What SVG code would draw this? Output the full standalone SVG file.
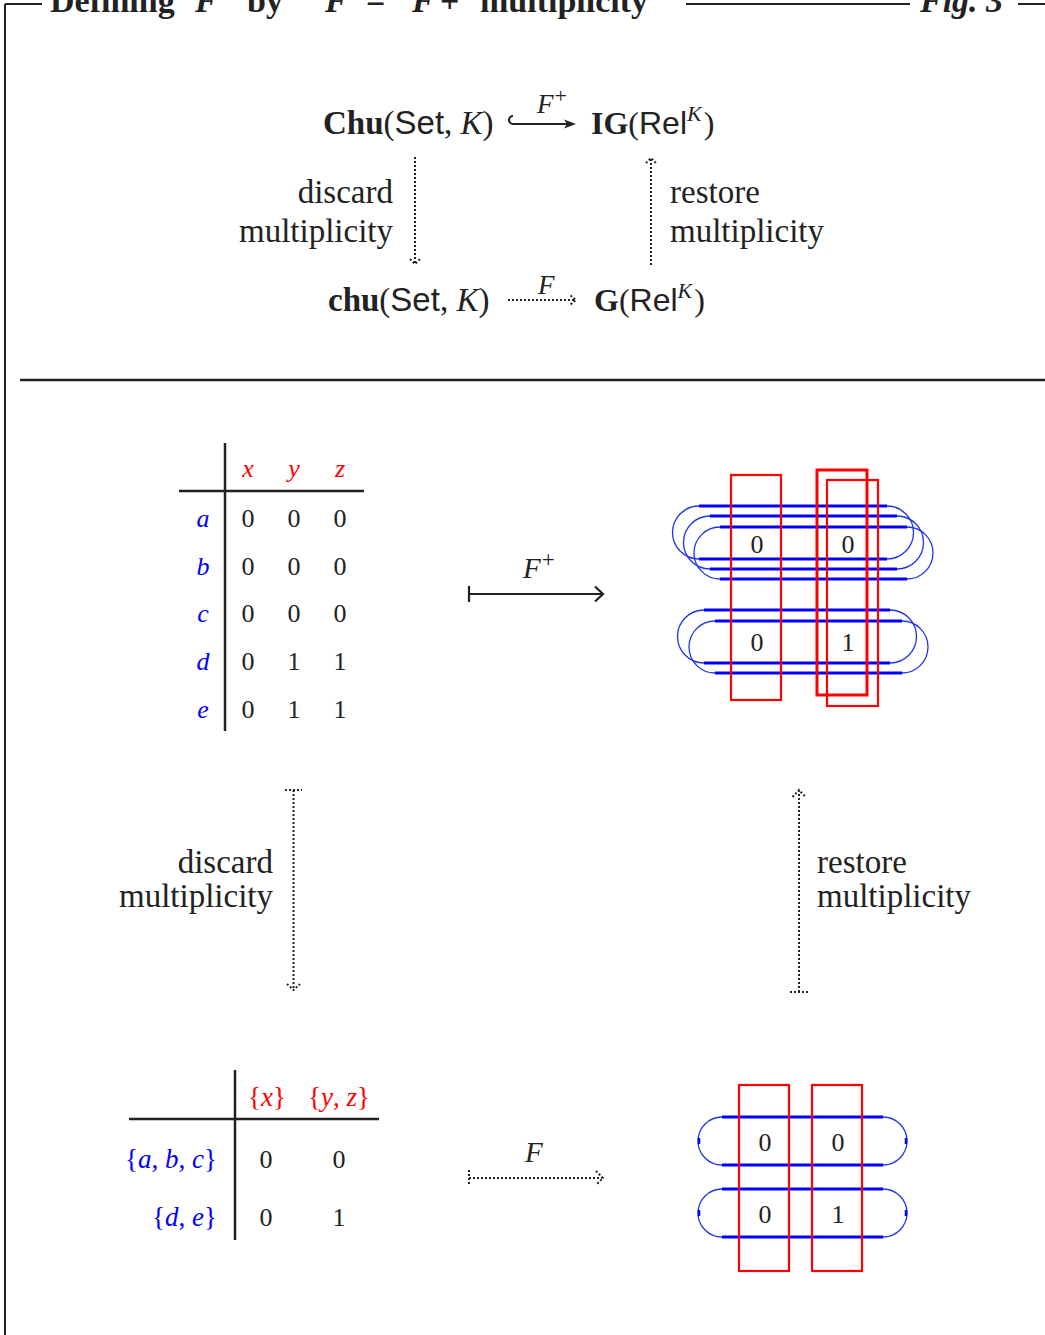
<svg xmlns="http://www.w3.org/2000/svg" width="1045" height="1335" viewBox="0 0 1045 1335">
<style>
text{font-family:"Liberation Serif","DejaVu Serif",serif;fill:#222}
.sans{font-family:"Liberation Sans","DejaVu Sans",sans-serif}
.it{font-style:italic}
.b{font-weight:bold}
.big{font-size:32px}
.lab{font-size:33px}
.num{font-size:26px}
.red{fill:#ff0000}
.blue{fill:#0000ff}
.frame{stroke:#222;stroke-width:2;fill:none}
.rule{stroke:#222;stroke-width:2.5;fill:none}
.dot{stroke:#222;stroke-width:2;fill:none;stroke-dasharray:2 2}
.solid{stroke:#222;stroke-width:2.2;fill:none}
.bl{stroke:#0000ff;stroke-width:3;fill:none}
.ba{stroke:#2233ee;stroke-width:1.3;fill:none}
.rr{stroke:#ff0000;stroke-width:2.2;fill:none}
</style>

<g id="frame">
<line class="frame" x1="5" y1="4" x2="5" y2="1335"/>
<line class="frame" x1="5" y1="4" x2="42" y2="4"/>
<line class="frame" x1="686" y1="4" x2="910" y2="4"/>
<line class="frame" x1="1018" y1="4" x2="1045" y2="4"/>
<line class="rule" x1="20" y1="380" x2="1045" y2="380"/>
</g>

<g id="title">
<text y="12" style="font-size:34px" class="b"><tspan x="50">Defining</tspan><tspan x="195" class="it">F</tspan><tspan dy="-12" style="font-size:24px">+</tspan><tspan x="247" dy="12">by</tspan><tspan x="325" class="it">F</tspan><tspan dy="-12" style="font-size:24px">+</tspan><tspan x="366" dy="12">=</tspan><tspan x="412" class="it">F</tspan><tspan x="440">+</tspan><tspan x="480">multiplicity</tspan></text>
<text x="920" y="12" style="font-size:34px" class="b it">Fig. 3</text>
</g>

<g id="node-Chu">
<text x="323" y="134" class="big" style="font-size:33px"><tspan class="b">Chu</tspan>(<tspan class="sans">Set</tspan>, <tspan class="it">K</tspan>)</text>
</g>
<g id="node-IG">
<text x="591" y="134" class="big"><tspan class="b">IG</tspan>(<tspan class="sans">Rel</tspan><tspan class="it" dy="-13" style="font-size:22px">K</tspan><tspan dy="13" dx="2">)</tspan></text>
</g>
<g id="node-chu">
<text x="328" y="311" class="big" style="font-size:33px"><tspan class="b">chu</tspan>(<tspan class="sans">Set</tspan>, <tspan class="it">K</tspan>)</text>
</g>
<g id="node-G">
<text x="594" y="311" class="big"><tspan class="b">G</tspan>(<tspan class="sans">Rel</tspan><tspan class="it" dy="-13" style="font-size:22px">K</tspan><tspan dy="13" dx="2">)</tspan></text>
</g>

<g id="table-upper">
<line class="rule" x1="225" y1="443" x2="225" y2="731"/>
<line class="rule" x1="179" y1="491" x2="364" y2="491"/>
<g text-anchor="middle">
<text x="248" y="477" class="it red num">x</text>
<text x="294" y="477" class="it red num">y</text>
<text x="340" y="477" class="it red num">z</text>
<text x="203" y="527" class="it blue num">a</text>
<text x="203" y="575" class="it blue num">b</text>
<text x="203" y="622" class="it blue num">c</text>
<text x="203" y="670" class="it blue num">d</text>
<text x="203" y="718" class="it blue num">e</text>
<text x="248" y="527" class="num">0</text><text x="294" y="527" class="num">0</text><text x="340" y="527" class="num">0</text>
<text x="248" y="575" class="num">0</text><text x="294" y="575" class="num">0</text><text x="340" y="575" class="num">0</text>
<text x="248" y="622" class="num">0</text><text x="294" y="622" class="num">0</text><text x="340" y="622" class="num">0</text>
<text x="248" y="670" class="num">0</text><text x="294" y="670" class="num">1</text><text x="340" y="670" class="num">1</text>
<text x="248" y="718" class="num">0</text><text x="294" y="718" class="num">1</text><text x="340" y="718" class="num">1</text>
</g>
</g>

<g id="graph-upper">
<g id="loops-upper">
<path class="bl" d="M699,506 H887 M699,559 H887"/>
<path class="ba" d="M699,506 A26.5,26.5 0 0 0 699,559 M887,506 A26.5,26.5 0 0 1 887,559"/>
<path class="bl" d="M710,516 H897 M710,569 H897"/>
<path class="ba" d="M710,516 A26.5,26.5 0 0 0 710,569 M897,516 A26.5,26.5 0 0 1 897,569"/>
<path class="bl" d="M720,527 H907 M720,579 H907"/>
<path class="ba" d="M720,527 A26,26 0 0 0 720,579 M907,527 A26,26 0 0 1 907,579"/>
<path class="bl" d="M704,610 H890 M704,663 H890"/>
<path class="ba" d="M704,610 A26.5,26.5 0 0 0 704,663 M890,610 A26.5,26.5 0 0 1 890,663"/>
<path class="bl" d="M715,621 H902 M715,673 H902"/>
<path class="ba" d="M715,621 A26,26 0 0 0 715,673 M902,621 A26,26 0 0 1 902,673"/>
</g>
<rect class="rr" x="731" y="475" width="50" height="225"/>
<rect class="rr" x="817" y="470" width="50" height="225" style="stroke-width:3"/>
<rect class="rr" x="827" y="480" width="51" height="226"/>
<g text-anchor="middle">
<text x="757" y="553" class="num">0</text><text x="848" y="553" class="num">0</text>
<text x="757" y="651" class="num">0</text><text x="848" y="651" class="num">1</text>
</g>
</g>

<g id="table-lower">
<line class="rule" x1="235" y1="1070" x2="235" y2="1240"/>
<line class="rule" x1="129" y1="1119" x2="379" y2="1119"/>
<g text-anchor="middle">
<text x="267" y="1106" class="num red" style="font-size:27px">{<tspan class="it">x</tspan>}</text>
<text x="339" y="1106" class="num red" style="font-size:27px">{<tspan class="it">y</tspan>, <tspan class="it">z</tspan>}</text>
<text x="266" y="1168" class="num">0</text><text x="339" y="1168" class="num">0</text>
<text x="266" y="1226" class="num">0</text><text x="339" y="1226" class="num">1</text>
</g>
<g text-anchor="end">
<text x="217" y="1168" class="num blue" style="font-size:27px">{<tspan class="it">a</tspan>, <tspan class="it">b</tspan>, <tspan class="it">c</tspan>}</text>
<text x="217" y="1226" class="num blue" style="font-size:27px">{<tspan class="it">d</tspan>, <tspan class="it">e</tspan>}</text>
</g>
</g>

<g id="graph-lower">
<path class="bl" d="M722,1117 H883 M722,1165 H883 M722,1189 H883 M722,1237 H883"/>
<path class="ba" d="M722,1117 A24,24 0 0 0 722,1165 M883,1117 A24,24 0 0 1 883,1165 M722,1189 A24,24 0 0 0 722,1237 M883,1189 A24,24 0 0 1 883,1237"/>
<path stroke="#0000ff" stroke-width="2.5" d="M699,1138 V1144 M906,1138 V1144 M699,1210 V1216 M906,1210 V1216"/>
<rect class="rr" x="739" y="1085" width="50" height="186"/>
<rect class="rr" x="812" y="1085" width="50" height="186"/>
<g text-anchor="middle">
<text x="765" y="1151" class="num">0</text><text x="838" y="1151" class="num">0</text>
<text x="765" y="1223" class="num">0</text><text x="838" y="1223" class="num">1</text>
</g>
</g>

<g id="connectors">
<!-- top hook arrow F+ -->
<path class="solid" d="M513,116 A4,4 0 0 0 513,124 L567,124"/>
<polygon points="576,124 564,119.5 567,124 564,128.5" fill="#222"/>
<text x="537" y="113" class="it" style="font-size:27px">F<tspan dy="-10" dx="1" style="font-size:22px;font-style:normal">+</tspan></text>
<!-- top bottom dotted F -->
<path class="dot" d="M508,300 H575"/>
<path class="dot" d="M570.5,295.5 L576,300 L570.5,304.5"/>
<text x="538" y="294" class="it" style="font-size:27px">F</text>
<!-- top left discard -->
<path class="dot" d="M415,157 V264"/>
<path class="dot" d="M410,259 L415,264 L420,259"/>
<text x="393" y="203" class="lab" text-anchor="end">discard</text>
<text x="393" y="242" class="lab" text-anchor="end">multiplicity</text>
<!-- top right restore -->
<path class="dot" d="M651,265 V158"/>
<path class="dot" d="M646,163 L651,158 L656,163"/>
<text x="670" y="203" class="lab">restore</text>
<text x="670" y="242" class="lab">multiplicity</text>
<!-- middle F+ mapsto -->
<path class="solid" d="M469,586 V602 M469,594 H602"/>
<path class="solid" d="M595,586.5 L603,594 L595,601.5"/>
<text x="523" y="578" class="it" style="font-size:29px">F<tspan dy="-11" dx="1" style="font-size:23px;font-style:normal">+</tspan></text>
<!-- lower left discard -->
<path class="dot" d="M285,790 H302 M293.5,790 V990"/>
<path class="dot" d="M287,984 L293.5,990 L300,984"/>
<text x="273" y="873" class="lab" text-anchor="end">discard</text>
<text x="273" y="907" class="lab" text-anchor="end">multiplicity</text>
<!-- lower right restore -->
<path class="dot" d="M790,992 H808 M799,992 V791"/>
<path class="dot" d="M792.5,797 L799,790 L805.5,797"/>
<text x="817" y="873" class="lab">restore</text>
<text x="817" y="907" class="lab">multiplicity</text>
<!-- bottom F dotted -->
<path class="dot" d="M469,1170 V1186 M469,1178 H602"/>
<path class="dot" d="M596,1171 L603,1178 L596,1185"/>
<text x="525" y="1162" class="it" style="font-size:29px">F</text>
</g>
</svg>
